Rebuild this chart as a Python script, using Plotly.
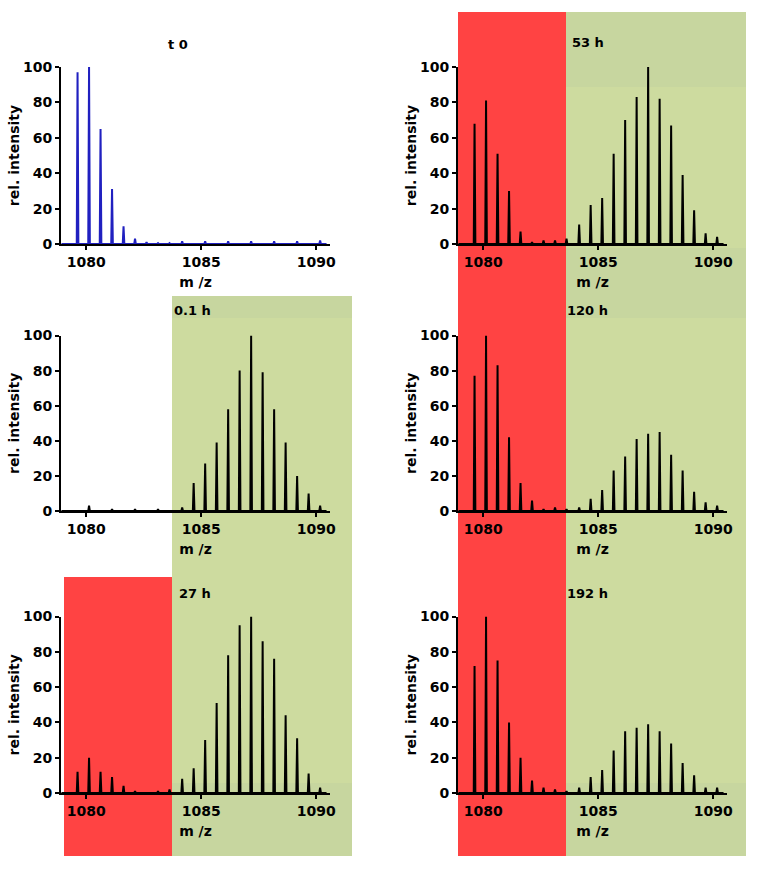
import plotly.graph_objects as go

# ---------------- data ----------------
panel_titles = ["t 0", "0.1 h", "27 h", "53 h", "120 h", "192 h"]

mz_light = [1079.62, 1080.12, 1080.62, 1081.12, 1081.62, 1082.12, 1082.62, 1083.12, 1083.62]
mz_heavy = [1084.17, 1084.67, 1085.17, 1085.67, 1086.17, 1086.67, 1087.17,
            1087.67, 1088.17, 1088.67, 1089.17, 1089.67, 1090.17]

t0_light = [97, 100, 65, 31, 10, 3, 1, 0.5, 0.5]
t0_heavy = [1.5, 0, 1.5, 0, 1.5, 0, 1.5, 0, 1.5, 0, 1.5, 0, 2]

h01_light = [0, 3, 0, 1, 0, 1, 0, 1, 0]
h01_heavy = [2, 16, 27, 39, 58, 80, 100, 79, 58, 39, 20, 10, 3]

h27_light = [12, 20, 12, 9, 4, 1, 0, 1, 2]
h27_heavy = [8, 14, 30, 51, 78, 95, 100, 86, 76, 44, 31, 11, 3]

h53_light = [68, 81, 51, 30, 7, 1, 2, 2, 3]
h53_heavy = [11, 22, 26, 51, 70, 83, 100, 82, 67, 39, 19, 6, 4]

h120_light = [77, 100, 83, 42, 16, 6, 1, 2, 1]
h120_heavy = [2, 7, 12, 23, 31, 41, 44, 45, 32, 23, 11, 5, 3]

h192_light = [72, 100, 75, 40, 20, 7, 3, 2, 1]
h192_heavy = [3, 9, 13, 24, 35, 37, 39, 35, 28, 17, 10, 3, 3]

x_ticks = [1080, 1085, 1090]
y_ticks = [0, 20, 40, 60, 80, 100]
x_range = [1078.9, 1090.6]
y_range = [0, 100]

# ---------------- styling / layout ----------------
W, H = 760, 869
def px(x): return x / W
def py(y): return 1 - y / H

FONT = "DejaVu Sans, Liberation Sans, Arial, sans-serif"
RED = "#FF4343"
GREEN = "#CDDB9F"
GREEN_D = "#C7D69F"
BLUE = "#2020C0"

col_x = [(61, 330), (458, 727)]
row_y = [(244, 67), (511, 335.5), (793, 616.5)]

panels = [
    (t0_light, t0_heavy, BLUE, 0, 0),
    (h01_light, h01_heavy, "black", 0, 1),
    (h27_light, h27_heavy, "black", 0, 2),
    (h53_light, h53_heavy, "black", 1, 0),
    (h120_light, h120_heavy, "black", 1, 1),
    (h192_light, h192_heavy, "black", 1, 2),
]

tick_font = dict(family=FONT, size=14, color="black", weight="bold")
title_font = dict(family=FONT, size=14, color="black", weight="bold")

fig = go.Figure()
hw = 0.035
layout_axes = {}
for i, (light, heavy, color, c, r) in enumerate(panels, start=1):
    xs, ys = [x_range[0] + 0.02], [0]
    for m, h in sorted(zip(mz_light + mz_heavy, light + heavy)):
        xs += [m - hw, m, m + hw]
        ys += [0, h, 0]
    xs.append(1090.45)
    ys.append(0)
    sfx = "" if i == 1 else str(i)
    fig.add_trace(go.Scatter(x=xs, y=ys, mode="lines",
                             line=dict(color=color, width=2),
                             xaxis="x" + sfx, yaxis="y" + sfx,
                             showlegend=False, hoverinfo="skip"))
    x0, x1 = col_x[c]
    yb, yt = row_y[r]
    layout_axes["xaxis" + sfx] = dict(
        domain=[px(x0), px(x1)], range=x_range, anchor="y" + sfx, automargin=False,
        tickvals=x_ticks, ticks="outside", ticklen=4, tickwidth=2, tickcolor="black",
        showline=True, linecolor="black", linewidth=2, showgrid=False, zeroline=False,
        tickfont=tick_font,
        title=dict(text="m /z", standoff=8, font=title_font),
    )
    layout_axes["yaxis" + sfx] = dict(
        domain=[py(yb), py(yt)], range=y_range, anchor="x" + sfx, automargin=False,
        tickvals=y_ticks, ticks="outside", ticklen=4, tickwidth=2, tickcolor="black",
        showline=True, linecolor="black", linewidth=2, showgrid=False, zeroline=False,
        tickfont=tick_font,
        title=dict(text="rel. intensity", standoff=0, font=title_font),
    )

def rect(x0, x1, ytop, ybot, color):
    return dict(type="rect", xref="paper", yref="paper",
                x0=px(x0), x1=px(x1), y0=py(ybot), y1=py(ytop),
                fillcolor=color, line_width=0, layer="below")

# background regions (behind the spectra): red = light form, green = heavy form
shapes = [
    rect(458, 566, 12, 856, RED),
    rect(566, 746, 12, 856, GREEN),
    rect(566, 746, 12, 87, GREEN_D),
    rect(566, 746, 248, 318, GREEN_D),
    rect(566, 746, 783, 856, GREEN_D),
    rect(172, 352, 296, 856, GREEN),
    rect(172, 352, 296, 318, GREEN_D),
    rect(172, 352, 783, 856, GREEN_D),
    rect(64, 172, 577, 856, RED),
]

title_pos = [(178, 44, "center"), (172, 310, "left"), (177, 593, "left"),
             (570, 43, "left"), (565, 311, "left"), (565, 593, "left")]
annotations = []
for t, (x, y, al) in zip(panel_titles, title_pos):
    annotations.append(dict(text=t, x=px(x), y=py(y), xref="paper", yref="paper",
                            xanchor=al, yanchor="middle", showarrow=False,
                            font=dict(family=FONT, size=13, color="black", weight="bold")))

fig.update_layout(
    width=W, height=H, margin=dict(l=0, r=0, t=0, b=0, autoexpand=False),
    paper_bgcolor="white", plot_bgcolor="rgba(0,0,0,0)",
    shapes=shapes, annotations=annotations, showlegend=False,
    **layout_axes,
)

fig.write_html("out.html", config={"displayModeBar": False},
               post_script="document.body.style.margin='0px';")
